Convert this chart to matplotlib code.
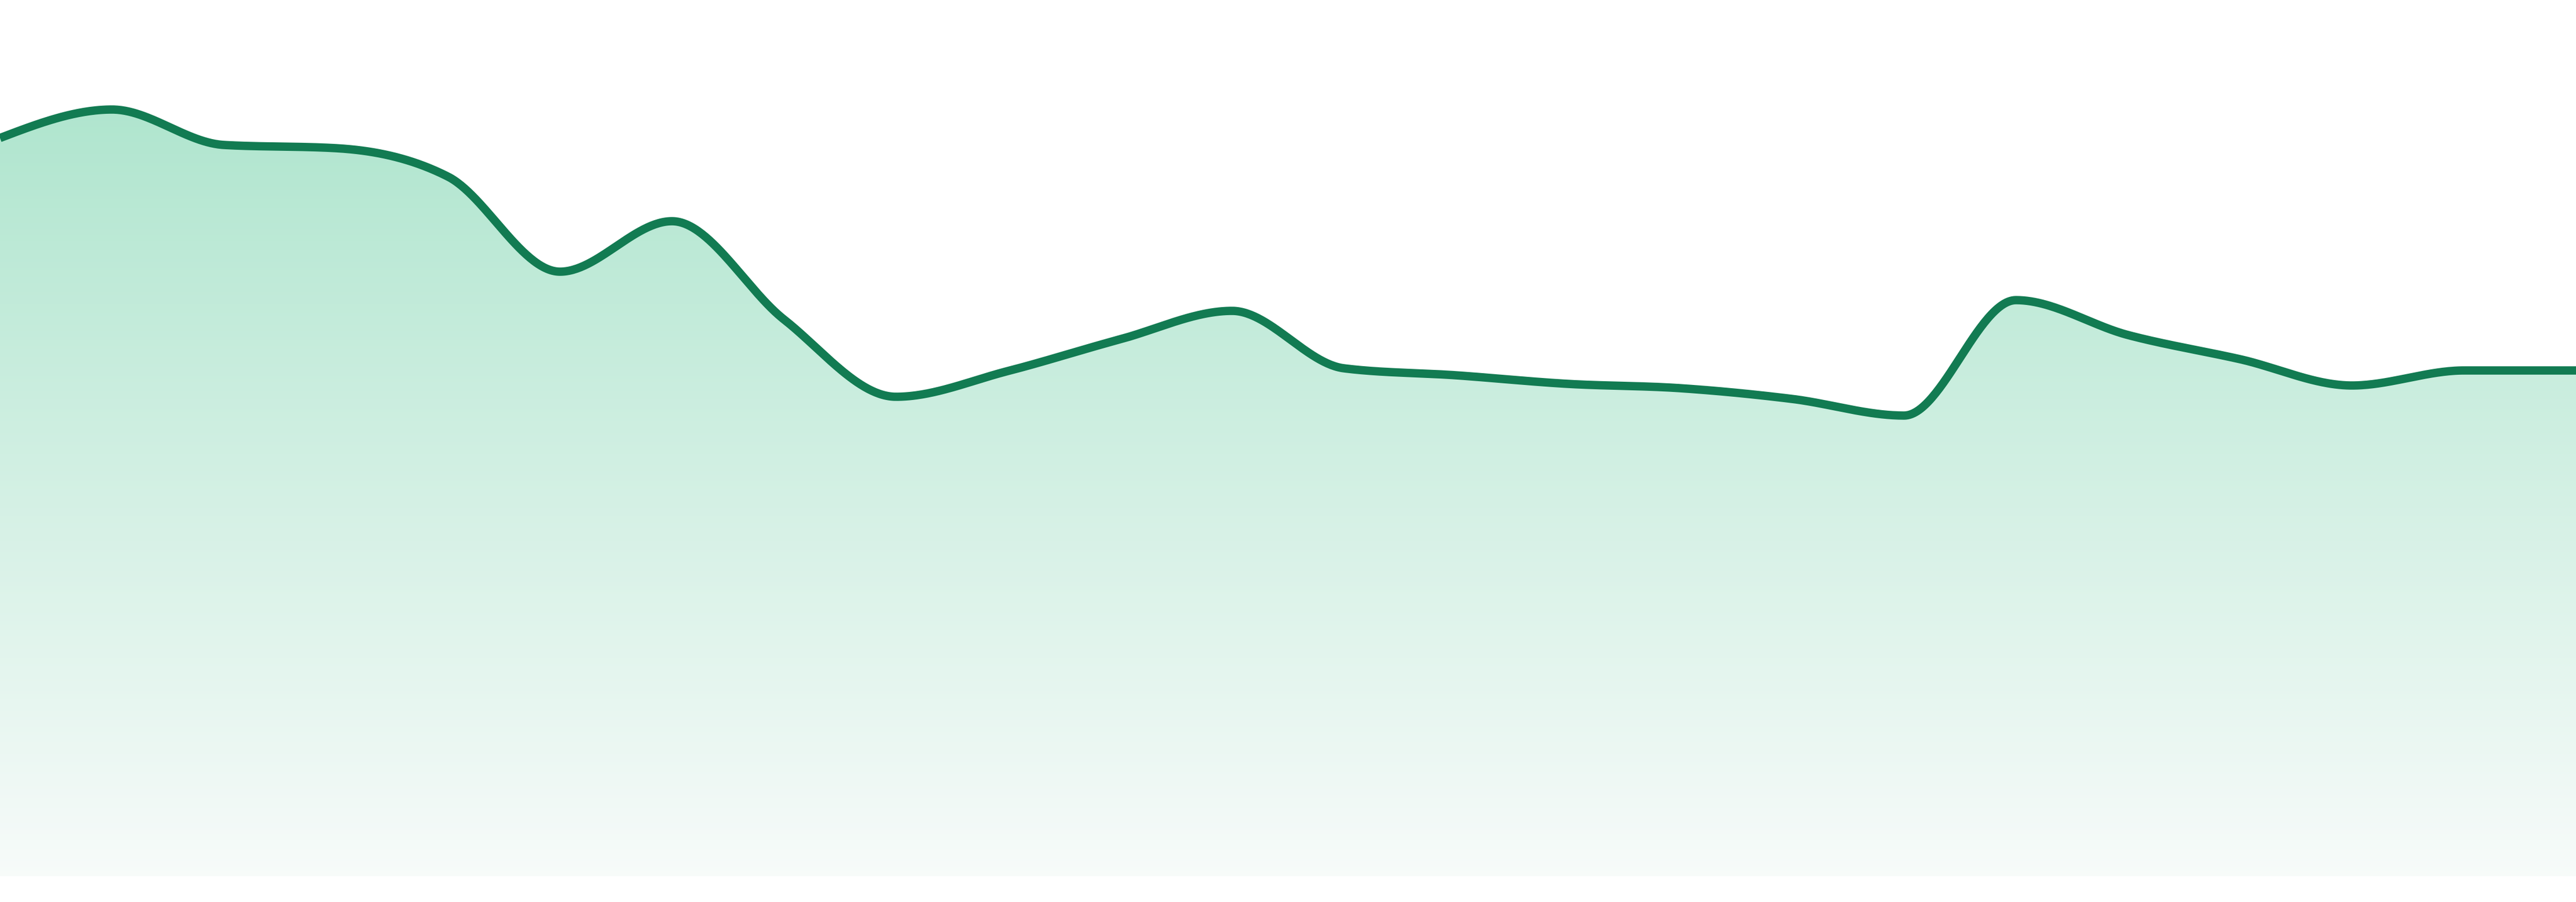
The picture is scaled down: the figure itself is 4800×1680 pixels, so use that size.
import numpy as np
import matplotlib
matplotlib.use("Agg")
import matplotlib.pyplot as plt
from matplotlib.colors import LinearSegmentedColormap

# valori della serie (24 punti equidistanti)
punti = list(range(24))
valori = [137.5, 142.8, 136.2, 135.6, 130.3, 112.6, 122.0, 103.7,
          89.3, 94.1, 100.0, 105.3, 94.6, 93.3, 91.7, 90.9,
          88.9, 85.8, 107.3, 100.8, 96.3, 91.4, 94.2, 94.2]

COLORE_LINEA = "#127b52"


def monotone_x(x, y, n=60):
    """Interpolazione monotona (come d3.curveMonotoneX)."""
    x = np.asarray(x, dtype=float)
    y = np.asarray(y, dtype=float)
    h = np.diff(x)
    s = np.diff(y) / h
    t = np.zeros(len(x))
    for i in range(1, len(x) - 1):
        h0, h1 = h[i - 1], h[i]
        s0, s1 = s[i - 1], s[i]
        p = (s0 * h1 + s1 * h0) / (h0 + h1)
        t[i] = (np.sign(s0) + np.sign(s1)) * min(abs(s0), abs(s1), 0.5 * abs(p))
    t[0] = (3 * s[0] - t[1]) / 2
    t[-1] = (3 * s[-1] - t[-2]) / 2
    xs, ys = [], []
    for i in range(len(x) - 1):
        u = np.linspace(0, 1, n, endpoint=False)
        dx = h[i]
        h00 = 2 * u**3 - 3 * u**2 + 1
        h10 = u**3 - 2 * u**2 + u
        h01 = -2 * u**3 + 3 * u**2
        h11 = u**3 - u**2
        xs.append(x[i] + u * dx)
        ys.append(h00 * y[i] + h10 * dx * t[i] + h01 * y[i + 1] + h11 * dx * t[i + 1])
    xs.append([x[-1]])
    ys.append([y[-1]])
    return np.concatenate(xs), np.concatenate(ys)


fig = plt.figure(figsize=(24, 8.4), dpi=200)
ax = fig.add_axes([0, 48 / 1680, 1, 1 - 48 / 1680])
ax.set_xlim(0, 23)
ax.set_ylim(0, 163.2)
ax.axis("off")

xs, ys = monotone_x(punti, valori)

# area con sfumatura verticale
area = ax.fill_between(xs, ys, 0, color="none", lw=0)
cmap = LinearSegmentedColormap.from_list(
    "sfumatura", [(0.97, 0.985, 0.98), (0.69, 0.90, 0.81)])
grad = np.linspace(0, 1, 256).reshape(-1, 1)
img = ax.imshow(grad, cmap=cmap, aspect="auto", origin="lower",
                extent=[0, 23, 0, max(valori)], zorder=1)
img.set_clip_path(area.get_paths()[0], transform=ax.transData)

ax.plot(xs, ys, color=COLORE_LINEA, lw=5.6, zorder=3, solid_capstyle="butt")

fig.savefig("out.png", dpi=200, facecolor="white")
